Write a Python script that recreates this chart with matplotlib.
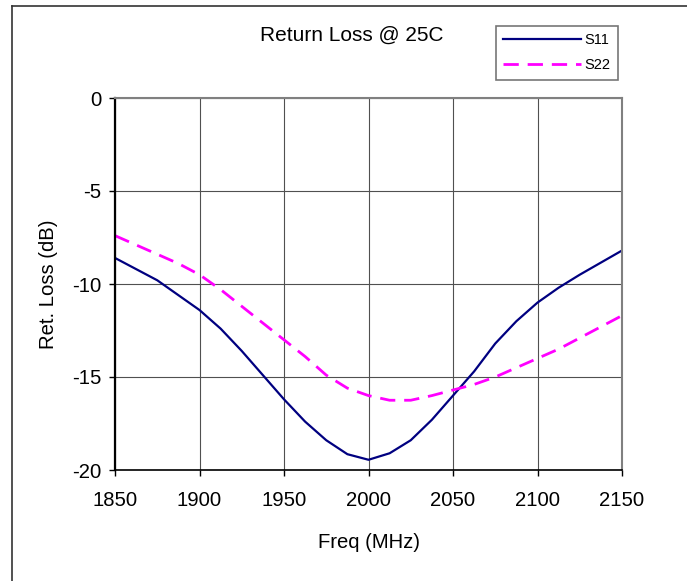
import matplotlib
matplotlib.use("Agg")
import matplotlib.pyplot as plt
from matplotlib.lines import Line2D

plt.rcParams['font.family'] = ['Liberation Sans', 'DejaVu Sans']
plt.rcParams['axes.unicode_minus'] = False

freq = [1850, 1862.5, 1875, 1887.5, 1900, 1912.5, 1925, 1937.5, 1950, 1962.5,
        1975, 1987.5, 2000, 2012.5, 2025, 2037.5, 2050, 2062.5, 2075, 2087.5,
        2100, 2112.5, 2125, 2137.5, 2150]
s11 = [-8.6, -9.2, -9.8, -10.6, -11.4, -12.4, -13.6, -14.9, -16.2, -17.4,
       -18.4, -19.15, -19.45, -19.1, -18.4, -17.3, -16.0, -14.7, -13.2, -12.0,
       -11.0, -10.2, -9.5, -8.85, -8.2]
s22 = [-7.4, -7.9, -8.4, -8.9, -9.5, -10.3, -11.2, -12.1, -13.0, -13.9,
       -14.9, -15.6, -16.0, -16.25, -16.25, -16.0, -15.7, -15.4, -15.0, -14.5,
       -14.0, -13.5, -12.9, -12.3, -11.7]
xticks = [1850, 1900, 1950, 2000, 2050, 2100, 2150]
yticks = [0, -5, -10, -15, -20]

W, H = 687, 581
fig = plt.figure(figsize=(W / 100, H / 100), dpi=100)
ax = fig.add_axes([115 / W, 1 - 470 / H, (622 - 115) / W, (470 - 98) / H])

ax.plot(freq, s11, color='#000080', lw=1.6, label='S11')
ax.plot(freq, s22, color='#FF00FF', lw=2.0, linestyle=(0, (5.5, 3.2)), label='S22')

ax.set_xlim(1850, 2150)
ax.set_ylim(-20, 0)
ax.set_xticks(xticks)
ax.set_yticks(yticks)
ax.grid(color='#505050', lw=0.8)
ax.set_axisbelow(True)

ax.spines['left'].set_color('black')
ax.spines['left'].set_linewidth(1.6)
ax.spines['bottom'].set_color('black')
ax.spines['bottom'].set_linewidth(1.2)
ax.spines['top'].set_color('#808080')
ax.spines['top'].set_linewidth(1.5)
ax.spines['right'].set_color('#808080')
ax.spines['right'].set_linewidth(1.5)

ax.tick_params(axis='both', direction='out', length=4, width=1, labelsize=14.6)
ax.tick_params(axis='x', pad=11)
ax.tick_params(axis='y', pad=6)

ax.set_xlabel('Freq (MHz)', fontsize=14.6, labelpad=17)
ax.set_ylabel('Ret. Loss (dB)', fontsize=14.6, labelpad=10)
fig.text(352 / W, 1 - 35 / H, 'Return Loss @ 25C', fontsize=15, ha='center', va='center')

leg = fig.legend(loc='upper left', bbox_to_anchor=(496 / W, 1 - 26 / H), borderaxespad=0,
                 fontsize=10.5, frameon=True, fancybox=False, edgecolor='#555555',
                 handlelength=5.3, handletextpad=0.25, labelspacing=0.75, borderpad=0.5)
leg.get_frame().set_linewidth(1.2)

# outer chart border (right/bottom fall outside the picture)
fig.add_artist(Line2D([12 / W, 12 / W], [0, 1 - 6 / H], transform=fig.transFigure, color='#333333', lw=1.2))
fig.add_artist(Line2D([12 / W, 1], [1 - 6 / H, 1 - 6 / H], transform=fig.transFigure, color='#333333', lw=1.2))

fig.savefig('out.png', dpi=100)
